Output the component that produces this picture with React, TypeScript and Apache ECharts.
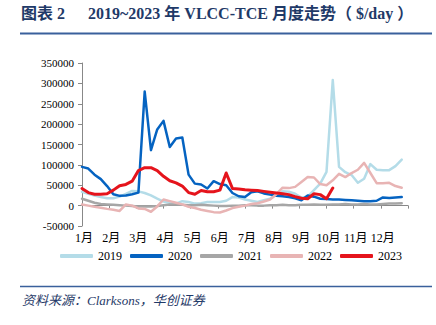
import React, { useEffect, useRef } from "react";
import * as echarts from "echarts";

const months = ["1月", "2月", "3月", "4月", "5月", "6月", "7月", "8月", "9月", "10月", "11月", "12月"];
const years = ["2019", "2020", "2021", "2022", "2023"];

// weekly TCE values ($/day), week index 0..51
const v2019 = [34000, 29000, 25000, 21000, 18000, 18000, 22000, 29000, 36000, 35000, 31000, 25000, 17000, 10000, 7000, 5000, 11000, 9000, 5000, 6000, 9000, 9000, 9000, 12000, 21000, 20000, 15000, 12000, 9000, 13000, 17000, 26000, 35000, 34000, 29000, 20000, 22000, 38000, 54000, 83000, 308000, 95000, 82000, 75000, 56000, 66000, 102000, 88000, 87000, 87000, 97000, 113000];
const v2020 = [95000, 91000, 76000, 65000, 48000, 28000, 24000, 25000, 28000, 32000, 280000, 136000, 187000, 208000, 144000, 165000, 167000, 76000, 54000, 52000, 42000, 60000, 53000, 50000, 31000, 23000, 21000, 33000, 35000, 30000, 27000, 24000, 23000, 21000, 18000, 13000, 25000, 22000, 17000, 16000, 15000, 15000, 14000, 13000, 12000, 11000, 11000, 12000, 20000, 19000, 20000, 21000];
const v2021 = [17000, 12000, 7000, 4000, 3000, 2000, 1000, 0, -1000, -2000, -2000, -2000, -1000, 1000, 3000, 3000, 2000, 1000, 1000, 2000, 1000, 0, -1000, -1000, 0, 0, 1000, 1000, 0, 0, 1000, 1000, 2000, 1000, 1000, 2000, 2000, 3000, 2000, 2000, 3000, 3000, 4000, 3000, 3000, 4000, 3000, 3000, 4000, 5000, 5000, 6000];
const v2022 = [3000, 0, -3000, -5000, -8000, -10000, -13000, 3000, 0, -7000, -8000, -15000, -2000, 15000, 11000, 7000, 3000, -3000, -6000, -10000, -13000, -16000, -17000, -12000, -6000, -3000, 0, 4000, 6000, 10000, 15000, 28000, 44000, 43000, 46000, 58000, 70000, 69000, 53000, 50000, 62000, 78000, 70000, 80000, 88000, 105000, 80000, 55000, 55000, 56000, 48000, 44000];
const v2023 = [42000, 32000, 28000, 28000, 29000, 38000, 49000, 52000, 60000, 86000, 93000, 93000, 86000, 72000, 61000, 56000, 48000, 32000, 28000, 37000, 34000, 34000, 38000, 80000, 42000, 41000, 39000, 38000, 37000, 35000, 33000, 31000, 29000, 27000, 22000, 18000, 17000, 29000, 27000, 17000, 43000];

const yTicks = { min: -50000, max: 350000, interval: 50000 };
const WEEKS = 52;

const colors = ["#b4dce8", "#0563c1", "#a6a6a6", "#e8b4b4", "#e5141c"];
const widths = [2.5, 2.5, 2.5, 2.5, 3];

const SERIF = "'Liberation Serif', 'Times New Roman', 'Noto Sans CJK SC', serif";

export default function App() {
  const ref = useRef<HTMLDivElement>(null);
  useEffect(() => {
    if (!ref.current) return;
    const chart = echarts.init(ref.current, null, { renderer: "svg" });
    const all = [v2019, v2020, v2021, v2022, v2023];
    const step = WEEKS / 12;
    chart.setOption({
      animation: false,
      backgroundColor: "#ffffff",
      grid: { left: 82, right: 28, top: 63, bottom: 99, containLabel: false },
      legend: {
        data: years.map((y) => ({ name: y, icon: "roundRect" })),
        left: 55,
        top: 245,
        itemWidth: 33,
        itemHeight: 4,
        itemGap: 8,
        textStyle: { fontFamily: SERIF, fontSize: 12, color: "#000" },
      },
      xAxis: {
        type: "value",
        min: 0,
        max: WEEKS,
        interval: step,
        axisLine: { onZero: true, lineStyle: { color: "#888", width: 1 } },
        axisTick: { show: true, length: 3, lineStyle: { color: "#888" } },
        splitLine: { show: false },
        axisLabel: {
          fontFamily: SERIF,
          fontSize: 12,
          color: "#000",
          margin: 6,
          padding: [0, 0, 0, 4],
          formatter: (v: number) => {
            const k = Math.round(v / step);
            return k < 12 ? months[k] : "";
          },
        },
      },
      yAxis: {
        type: "value",
        min: yTicks.min,
        max: yTicks.max,
        interval: yTicks.interval,
        axisLine: { show: true, lineStyle: { color: "#888", width: 1 } },
        axisTick: { show: true, length: 4, lineStyle: { color: "#888" } },
        splitLine: { show: false },
        axisLabel: {
          fontFamily: SERIF,
          fontSize: 11,
          color: "#000",
          margin: 8,
          formatter: (v: number) => String(v),
        },
      },
      series: all.map((arr, i) => ({
        name: years[i],
        type: "line",
        data: arr.map((v, j) => [j, v]),
        showSymbol: false,
        symbol: "none",
        smooth: false,
        z: i === 4 ? 5 : 2 + i * 0.1,
        lineStyle: { color: colors[i], width: widths[i], join: "round", cap: "round" },
        itemStyle: { color: colors[i] },
      })),
      graphic: [
        {
          type: "text",
          left: 21,
          top: 5,
          style: { text: "图表 2", fontFamily: SERIF, fontSize: 16, fontWeight: "bold", fill: "#1f3a68" },
        },
        {
          type: "text",
          left: 88,
          top: 5,
          style: {
            text: "2019~2023 年 VLCC-TCE 月度走势（ $/day ）",
            fontFamily: SERIF,
            fontSize: 16,
            fontWeight: "bold",
            fill: "#1f3a68",
          },
        },
        {
          type: "line",
          shape: { x1: 20, y1: 33.5, x2: 432, y2: 33.5 },
          style: { stroke: "#3a609c", lineWidth: 2 },
        },
        {
          type: "line",
          shape: { x1: 20, y1: 286.5, x2: 432, y2: 286.5 },
          style: { stroke: "#3a609c", lineWidth: 1.5 },
        },
        {
          type: "text",
          left: 22,
          top: 294,
          style: {
            text: "资料来源：Clarksons，华创证券",
            fontFamily: SERIF,
            fontSize: 13,
            fontStyle: "italic",
            fill: "#1f3a68",
          },
        },
      ],
    });
    return () => chart.dispose();
  }, []);
  return <div ref={ref} style={{ width: 436, height: 325, position: "absolute", left: 0, top: 0 }} />;
}
